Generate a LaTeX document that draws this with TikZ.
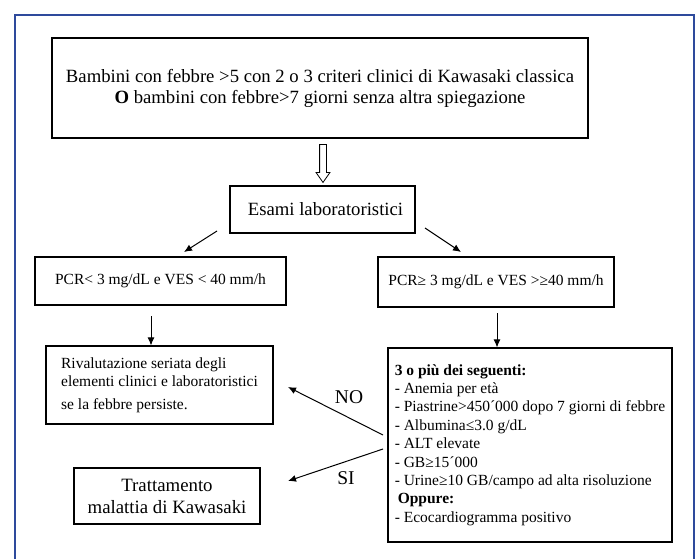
\documentclass[tikz,border=0pt]{standalone}
\usepackage{fontspec}
\setmainfont{Liberation Serif}
\usetikzlibrary{arrows.meta,shapes.arrows}
\definecolor{frameblue}{RGB}{46,74,156}
\begin{document}
\begin{tikzpicture}[x=1pt,y=-1pt,
	box/.style={draw,line width=1.1pt,inner sep=0pt},
	arr/.style={line width=1pt,-{Latex[length=8pt,width=7pt]}},
	bigtext/.style={font=\fontsize{18.7}{21}\selectfont},
	smalltext/.style={font=\fontsize{15.5}{18.4}\selectfont}]
	\useasboundingbox (0,0) rectangle (695,559);
	\draw[frameblue,line width=2.5pt] (15,559) -- (15,15) -- (694,15) -- (694,559);
	% boxes
	\node[box,bigtext,minimum width=536,minimum height=100,align=center] (start) at (320,88)
		{Bambini con febbre >5 con 2 o 3 criteri clinici di Kawasaki classica\\
		\textbf{O} bambini con febbre>7 giorni senza altra spiegazione};
	\node[box,bigtext,minimum width=185,minimum height=47] (esami) at (322.5,209.5) {\hspace{6pt}Esami laboratoristici};
	\node[box,smalltext,minimum width=251,minimum height=48] (pcrlow) at (160.5,281) {PCR< 3 mg/dL e VES < 40 mm/h};
	\node[box,smalltext,minimum width=236,minimum height=50] (pcrhigh) at (496,282) {PCR≥ 3 mg/dL e VES >≥40 mm/h};
	\node[box,smalltext,minimum width=227,minimum height=78,align=left] (rival) at (159.5,385)
		{Rivalutazione seriata degli\\ elementi clinici e laboratoristici\\[4pt] se la febbre persiste.};
	\node[box,smalltext,minimum width=284,minimum height=194,align=left] (criteri) at (530,445)
		{\textbf{3 o più dei seguenti:}\\
		- Anemia per età\\
		- Piastrine>450´000 dopo 7 giorni di febbre\\
		- Albumina≤3.0 g/dL\\
		- ALT elevate\\
		- GB≥15´000\\
		- Urine≥10 GB/campo ad alta risoluzione\\
		\hspace{3pt}\textbf{Oppure:}\\
		- Ecocardiogramma positivo};
	\node[box,font=\fontsize{18.8}{22}\selectfont,minimum width=186,minimum height=56,align=center] (tratt) at (167,496)
		{Trattamento\\ malattia di Kawasaki};
	% hollow arrow
	\node[single arrow,draw,line width=0.8pt,rotate=-90,minimum height=38pt,inner sep=3pt,
		single arrow head extend=3.5pt,single arrow tip angle=70] (hollow) at (323,161) {};
	% connectors
	\coordinate (lefttail) at (217,231);
	\coordinate (lefthead) at (184,252);
	\coordinate (righttail) at (425,228);
	\coordinate (righthead) at (461,252);
	\draw[arr] (lefttail) -- (lefthead);
	\draw[arr] (righttail) -- (righthead);
	\coordinate (lowtail) at (151,316);
	\coordinate (hightail) at (497,313);
	\draw[arr] (lowtail) -- (lowtail |- rival.north);
	\draw[arr] (hightail) -- (hightail |- criteri.north);
	\coordinate (notail) at (383,435);
	\coordinate (nohead) at (288,387);
	\coordinate (sitail) at (383,449);
	\coordinate (sihead) at (288,481);
	\draw[arr] (notail) -- (nohead);
	\draw[arr] (sitail) -- (sihead);
	\node[font=\fontsize{19.5}{22}\selectfont] (nolabel) at (349,397) {NO};
	\node[font=\fontsize{19.5}{22}\selectfont] (silabel) at (346,478) {SI};
\end{tikzpicture}
\end{document}
